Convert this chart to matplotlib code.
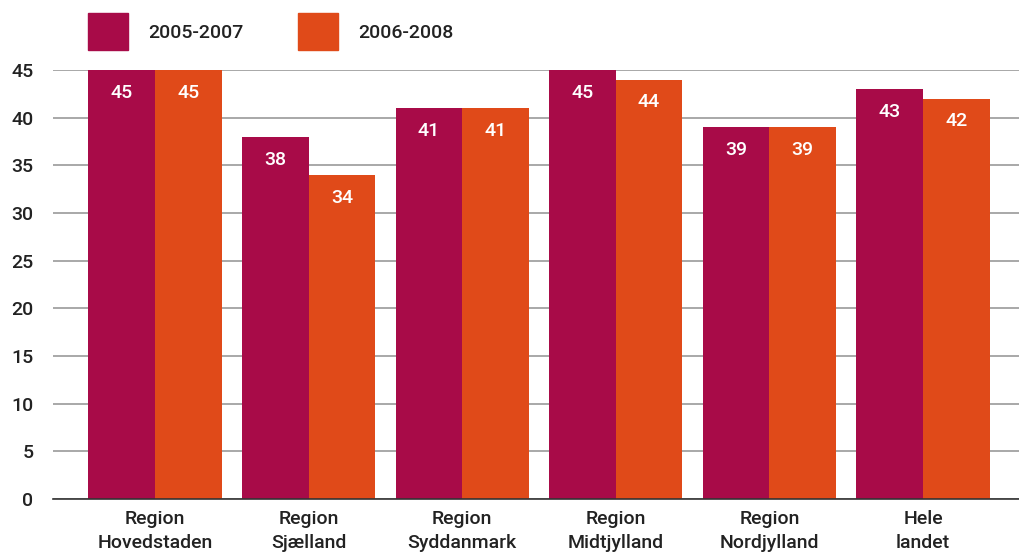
import numpy as np
import matplotlib
matplotlib.use("Agg")
import matplotlib.pyplot as plt
from matplotlib.patches import Rectangle

# data
categories = ["Region\nHovedstaden", "Region\nSjælland", "Region\nSyddanmark",
              "Region\nMidtjylland", "Region\nNordjylland", "Hele\nlandet"]
series_names = ["2005-2007", "2006-2008"]
values_0507 = [45, 38, 41, 45, 39, 43]
values_0608 = [45, 34, 41, 44, 39, 42]
y_ticks = [0, 5, 10, 15, 20, 25, 30, 35, 40, 45]

colors = ["#A80B48", "#E04A19"]
plt.rcParams["font.family"] = ["Roboto", "DejaVu Sans"]

fig = plt.figure(figsize=(10.19, 5.56), dpi=100)
ax = fig.add_axes([53 / 1019, 1 - 499 / 556, (1019 - 53) / 1019, (499 - 70) / 556])

x = np.arange(len(categories))
w = 0.433
for vals, col, off in [(values_0507, colors[0], -w / 2), (values_0608, colors[1], w / 2)]:
    bars = ax.bar(x + off, vals, width=w, color=col, zorder=2)
    for b, v in zip(bars, vals):
        ax.text(b.get_x() + b.get_width() / 2, v - 2.4, str(v), ha="center", va="center",
                color="white", fontsize=14, fontweight="medium", zorder=3)

ax.set_xlim(-0.664, 5.625)
ax.set_ylim(0, 45)
ax.set_yticks(y_ticks)
ax.set_yticklabels([str(t) for t in y_ticks], fontsize=14, fontweight="medium", color="#222222")
ax.yaxis.grid(True, color="#999999", linewidth=1.2, zorder=0)
ax.tick_params(axis="y", length=0, pad=14)
ax.tick_params(axis="x", length=0, pad=8)
ax.set_xticks(x)
ax.set_xticklabels(categories, fontsize=14, fontweight="medium", color="#222222", linespacing=1.45)
for s in ["top", "right", "left"]:
    ax.spines[s].set_visible(False)
ax.spines["bottom"].set_color("#333333")
ax.spines["bottom"].set_linewidth(1.2)
ax.set_axisbelow(True)

# legend
leg_x = [88, 298]
for lx, col, name in zip(leg_x, colors, series_names):
    fig.patches.append(Rectangle((lx / 1019, 1 - 50 / 556), 40 / 1019, 37 / 556,
                                 transform=fig.transFigure, color=col))
    fig.text((lx + 60) / 1019, 1 - 33 / 556, name, ha="left", va="center",
             fontsize=14, fontweight="medium", color="#222222")

fig.savefig("out.png", dpi=100)
